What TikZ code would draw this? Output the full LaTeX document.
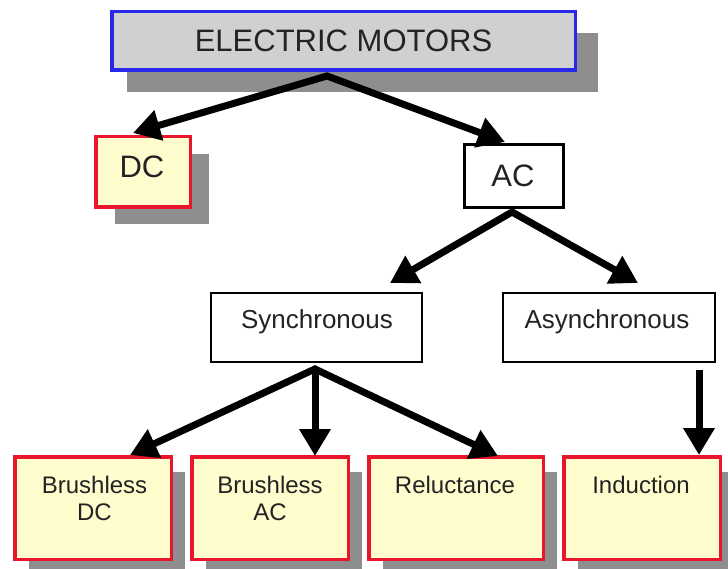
\documentclass[tikz,border=0pt]{standalone}
\usepackage{fontspec}
\setmainfont{Liberation Sans}
\usetikzlibrary{arrows.meta,shadows}

\definecolor{boxred}{RGB}{232,22,42}
\definecolor{boxyellow}{RGB}{255,253,206}
\definecolor{shadowgray}{RGB}{142,142,142}
\definecolor{topgray}{RGB}{208,208,208}
\definecolor{topblue}{RGB}{40,40,235}
\definecolor{txtcol}{RGB}{35,35,35}

\tikzset{
  topbox/.style={draw=topblue, fill=topgray, line width=3.5pt, rectangle, inner sep=0pt,
    minimum width=463.5pt, minimum height=58.5pt,
    general shadow={fill=shadowgray, shadow xshift=18.5pt, shadow yshift=-21pt, shadow scale=1.015},
    font=\fontsize{31}{34}\selectfont, text=txtcol},
  leafbox/.style={draw=boxred, fill=boxyellow, line width=3.5pt, rectangle, inner sep=0pt,
    minimum height=102.5pt, minimum width=156.5pt,
    general shadow={fill=shadowgray, shadow xshift=14pt, shadow yshift=-15pt}},
  dcbox/.style={draw=boxred, fill=boxyellow, line width=3.5pt, rectangle, inner sep=0pt,
    minimum width=94.5pt, minimum height=70.5pt,
    general shadow={fill=shadowgray, shadow xshift=19pt, shadow yshift=-17pt}},
  acbox/.style={draw=black, fill=white, line width=3pt, rectangle, inner sep=0pt,
    minimum width=99pt, minimum height=63pt},
  midbox/.style={draw=black, fill=white, line width=1.8pt, rectangle, inner sep=0pt,
    minimum height=69.2pt},
  bigtxt/.style={inner sep=0pt, anchor=base, text=txtcol, font=\fontsize{31}{34}\selectfont},
  midtxt/.style={inner sep=0pt, anchor=base, text=txtcol, font=\fontsize{26}{30}\selectfont},
  leaftxt/.style={inner sep=0pt, anchor=north, align=center, text=txtcol, font=\fontsize{24}{27}\selectfont},
  arr/.style={line width=7pt, draw=black, line join=miter,
    arrows={-Triangle[length=27pt,width=30pt]}},
  arr2/.style={line width=7pt, draw=black, line join=miter,
    arrows={Triangle[length=27pt,width=30pt]-Triangle[length=27pt,width=30pt]}},
}

\begin{document}
\begin{tikzpicture}[x=1pt,y=-1pt]
\clip (0,0) rectangle (728,569);
\fill[white] (0,0) rectangle (728,569);

% boxes
\node[topbox] (em) at (343.5,41) {ELECTRIC MOTORS};
\node[dcbox] (dc) at (143,172) {};
\node[bigtxt] (dct) at ([xshift=-1pt,yshift=-6pt]dc.center) {DC};
\node[acbox] (ac) at (514,176) {};
\node[bigtxt] (act) at ([xshift=-1pt,yshift=-11pt]ac.center) {AC};

\node[midbox, minimum width=211.2pt] (sync) at (316.5,327.5) {};
\node[midtxt] (synct) at ([xshift=0.5pt,yshift=-0.5pt]sync.center) {Synchronous};
\node[midbox, minimum width=212.2pt] (async) at (609,327.5) {};
\node[midtxt] (asynct) at ([xshift=-2pt,yshift=-0.5pt]async.center) {Asynchronous};

\node[leafbox] (b1) at (93,508) {};
\node[leafbox] (b2) at (270,508) {};
\node[leafbox, minimum width=174.5pt] (b3) at (456,508) {};
\node[leafbox] (b4) at (642,508) {};
\node[leaftxt] (b1t) at ([xshift=1.5pt,yshift=-20.5pt]b1.north) {Brushless\\DC};
\node[leaftxt] (b2t) at ([yshift=-20.5pt]b2.north) {Brushless\\AC};
\node[leaftxt] (b3t) at ([xshift=-1pt,yshift=-20.5pt]b3.north) {Reluctance};
\node[leaftxt] (b4t) at ([xshift=-1pt,yshift=-20.5pt]b4.north) {Induction};

% connector points
\coordinate (emapex) at ([xshift=-16.5pt,yshift=-4pt]em.south);
\coordinate (dctip) at ([xshift=-10pt,yshift=2pt]dc.north);
\coordinate (actip) at ([xshift=-9pt,yshift=1pt]ac.north);
\coordinate (acapex) at ([xshift=-2pt,yshift=-3pt]ac.south);
\coordinate (synctip) at ([xshift=73.5pt,yshift=9pt]sync.north);
\coordinate (asynctip) at ([xshift=29pt,yshift=9pt]async.north);
\coordinate (syncapex) at ([xshift=-1.5pt,yshift=-6pt]sync.south);
\coordinate (b1tip) at ([xshift=37pt]b1.north);
\coordinate (b2tip) at ([xshift=45pt,yshift=-1pt]b2.north);
\coordinate (b3tip) at ([xshift=42pt,yshift=-1pt]b3.north);
\coordinate (asyncout) at ([xshift=90pt,yshift=-7pt]async.south);
\coordinate (b4tip) at ([xshift=57pt]b4.north);

% connectors
\draw[arr2] (dctip) -- (emapex) -- (actip);
\draw[arr2] (synctip) -- (acapex) -- (asynctip);
\draw[arr2] (b1tip) -- (syncapex) -- (b3tip);
\draw[arr] (syncapex) -- (b2tip);
\draw[arr] (asyncout) -- (b4tip);
\end{tikzpicture}
\end{document}
